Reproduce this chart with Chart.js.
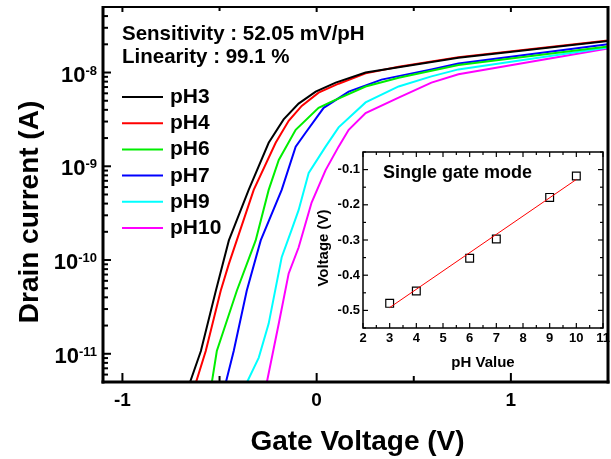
<!DOCTYPE html>
<html>
<head>
<meta charset="utf-8">
<script src="https://cdn.jsdelivr.net/npm/chart.js@4.4.1/dist/chart.umd.min.js"></script>
<style>
  html, body { margin: 0; padding: 0; background: #fff; }
  #wrap { position: relative; width: 611px; height: 459px; }
  #main { position: absolute; left: 0; top: 0; }
  #inset { position: absolute; left: 300px; top: 140px; }
</style>
</head>
<body>
<div id="wrap">
  <canvas id="main" width="611" height="459"></canvas>
  <canvas id="inset" width="311" height="240"></canvas>
</div>
<script>
// ---------------- DATA ----------------
const seriesNames = ['pH3', 'pH4', 'pH6', 'pH7', 'pH9', 'pH10'];
const seriesColors = ['#000000', '#ff0000', '#00ee00', '#0000ff', '#00ffff', '#ff00ff'];

const vgPH3  = [-0.653, -0.596, -0.519, -0.452, -0.350, -0.247, -0.170, -0.093, -0.005, 0.098, 0.252, 0.422, 0.730, 1.50];
const idPH3  = [4.9e-12, 1.07e-11, 4.7e-11, 1.62e-10, 5.6e-10, 1.78e-9, 3.16e-9, 4.66e-9, 6.25e-9, 7.8e-9, 1.0e-8, 1.14e-8, 1.44e-8, 2.17e-8];

const vgPH4  = [-0.622, -0.571, -0.494, -0.452, -0.324, -0.211, -0.144, -0.077, 0.010, 0.113, 0.252, 0.422, 0.730, 1.50];
const idPH4  = [4.9e-12, 1.07e-11, 4.7e-11, 9.1e-11, 5.6e-10, 1.78e-9, 3.06e-9, 4.4e-9, 6.1e-9, 7.6e-9, 9.8e-9, 1.15e-8, 1.46e-8, 2.2e-8];

const vgPH6  = [-0.540, -0.514, -0.411, -0.314, -0.247, -0.195, -0.108, 0.010, 0.077, 0.252, 0.422, 0.730, 1.50];
const idPH6  = [4.9e-12, 1.07e-11, 4.7e-11, 1.62e-10, 5.6e-10, 1.17e-9, 2.45e-9, 4.2e-9, 4.9e-9, 7.1e-9, 8.8e-9, 1.2e-8, 1.9e-8];

const vgPH7  = [-0.468, -0.427, -0.360, -0.288, -0.180, -0.108, -0.057, 0.036, 0.165, 0.334, 0.591, 0.730, 1.50];
const idPH7  = [4.9e-12, 1.07e-11, 4.7e-11, 1.62e-10, 5.6e-10, 1.62e-9, 2.28e-9, 4.2e-9, 6.25e-9, 8.4e-9, 1.08e-8, 1.25e-8, 2.0e-8];

const vgPH9  = [-0.360, -0.298, -0.247, -0.180, -0.129, -0.093, -0.041, 0.046, 0.113, 0.252, 0.422, 0.591, 0.730, 1.50];
const idPH9  = [4.9e-12, 9.1e-12, 2.1e-11, 1.07e-10, 2.1e-10, 3.4e-10, 8.5e-10, 1.62e-9, 2.6e-9, 4.8e-9, 7.1e-9, 9.1e-9, 1.08e-8, 1.85e-8];

const vgPH10 = [-0.257, -0.195, -0.144, -0.093, -0.026, 0.046, 0.113, 0.165, 0.252, 0.422, 0.591, 0.730, 1.50];
const idPH10 = [4.9e-12, 2.1e-11, 7.2e-11, 1.36e-10, 4.1e-10, 9.1e-10, 1.62e-9, 2.45e-9, 3.7e-9, 5.4e-9, 7.8e-9, 9.6e-9, 1.8e-8];

const xTickValues = [-1, 0, 1];
const xTickLabels = ['-1', '0', '1'];
const xMinorTicks = [-0.5, 0.5];
const yTickExponents = [-11, -10, -9, -8];

// inset data
const insetPH = [3, 4, 6, 7, 9, 10];
const insetVoltage = [-0.480, -0.445, -0.352, -0.297, -0.179, -0.118];
const fitPH = [3, 10];
const fitVoltage = [-0.492, -0.128];
const insetXTicks = [2, 3, 4, 5, 6, 7, 8, 9, 10, 11];
const insetYTicks = [-0.5, -0.4, -0.3, -0.2, -0.1];
const insetYTickLabels = ['-0.5', '-0.4', '-0.3', '-0.2', '-0.1'];

const annotation1 = 'Sensitivity : 52.05 mV/pH';
const annotation2 = 'Linearity : 99.1 %';
const xTitle = 'Gate Voltage (V)';
const yTitle = 'Drain current (A)';
const insetTitle = 'Single gate mode';
const insetXTitle = 'pH Value';
const insetYTitle = 'Voltage (V)';

// ---------------- BUILD ----------------
const FONT = "'Liberation Sans', Arial, sans-serif";
const vgList = [vgPH3, vgPH4, vgPH6, vgPH7, vgPH9, vgPH10];
const idList = [idPH3, idPH4, idPH6, idPH7, idPH9, idPH10];

const mainDatasets = seriesNames.map((n, i) => ({
  label: n,
  data: vgList[i].map((v, k) => ({ x: v, y: idList[i][k] })),
  borderColor: seriesColors[i],
  backgroundColor: seriesColors[i],
  borderWidth: 2,
  pointRadius: 0,
  tension: 0,
  fill: false
}));

function line(ctx, x1, y1, x2, y2) {
  ctx.beginPath(); ctx.moveTo(x1, y1); ctx.lineTo(x2, y2); ctx.stroke();
}

const mainDecor = {
  id: 'mainDecor',
  afterDraw(chart) {
    const { ctx, chartArea: a, scales: { x, y } } = chart;
    ctx.save();
    ctx.strokeStyle = '#000';
    ctx.fillStyle = '#000';
    // frame
    ctx.lineWidth = 2;
    line(ctx, a.left, a.top, a.right, a.top);
    ctx.lineWidth = 3;
    line(ctx, a.left, a.top - 1, a.left, a.bottom + 1.5);
    line(ctx, a.left - 1.5, a.bottom, a.right + 1.5, a.bottom);
    line(ctx, a.right, a.top - 1, a.right, a.bottom + 1.5);
    // x ticks
    ctx.lineWidth = 2;
    xTickValues.forEach(v => {
      const px = x.getPixelForValue(v);
      line(ctx, px, a.bottom, px, a.bottom - 9);
      line(ctx, px, a.top, px, a.top + 5);
    });
    xMinorTicks.forEach(v => {
      const px = x.getPixelForValue(v);
      line(ctx, px, a.bottom, px, a.bottom - 6);
      line(ctx, px, a.top, px, a.top + 4);
    });
    // y ticks (log)
    for (let e = -12; e <= -8; e++) {
      for (let m = 1; m <= 9; m++) {
        const v = m * Math.pow(10, e);
        if (v < y.min || v > y.max) continue;
        const py = y.getPixelForValue(v);
        line(ctx, a.left, py, a.left + (m === 1 ? 8 : 5), py);
      }
    }
    // x tick labels
    ctx.font = 'bold 19px ' + FONT;
    ctx.textAlign = 'center';
    ctx.textBaseline = 'alphabetic';
    xTickValues.forEach((v, i) => {
      ctx.fillText(xTickLabels[i], x.getPixelForValue(v), a.bottom + 24);
    });
    // y tick labels 10^n
    yTickExponents.forEach(e => {
      const py = y.getPixelForValue(Math.pow(10, e));
      const right = a.left - 6;
      ctx.font = 'bold 13px ' + FONT;
      ctx.textAlign = 'right';
      const expStr = String(e);
      const ew = ctx.measureText(expStr).width;
      ctx.fillText(expStr, right, py + 2);
      ctx.font = 'bold 22px ' + FONT;
      ctx.fillText('10', right - ew, py + 9);
    });
    // axis titles
    ctx.font = 'bold 28px ' + FONT;
    ctx.textAlign = 'center';
    ctx.fillText(xTitle, (a.left + a.right) / 2 + 2, 450);
    ctx.save();
    ctx.translate(30, 212);
    ctx.rotate(-Math.PI / 2);
    ctx.textBaseline = 'middle';
    ctx.fillText(yTitle, 0, 0);
    ctx.restore();
    // annotations
    ctx.textAlign = 'left';
    ctx.textBaseline = 'alphabetic';
    ctx.font = 'bold 20.5px ' + FONT;
    ctx.fillText(annotation1, a.left + 19, 40);
    ctx.fillText(annotation2, a.left + 19, 63);
    // legend
    const rowY0 = 97, rowStep = 26.2;
    chart.data.datasets.forEach((ds, i) => {
      const ry = rowY0 + i * rowStep;
      ctx.strokeStyle = ds.borderColor;
      ctx.lineWidth = 2;
      line(ctx, a.left + 19, ry, a.left + 60, ry);
      ctx.fillStyle = '#000';
      ctx.font = 'bold 21px ' + FONT;
      ctx.fillText(ds.label, a.left + 67, ry + 6);
    });
    ctx.restore();
  }
};

new Chart(document.getElementById('main'), {
  type: 'line',
  data: { datasets: mainDatasets },
  options: {
    responsive: false,
    animation: false,
    devicePixelRatio: 1,
    layout: { padding: { left: 103, top: 7, right: 3, bottom: 77 } },
    plugins: { legend: { display: false }, tooltip: { enabled: false } },
    scales: {
      x: { type: 'linear', min: -1.1, max: 1.5, display: false },
      y: { type: 'logarithmic', min: 5e-12, max: 5e-8, display: false }
    }
  },
  plugins: [mainDecor]
});

// ---------------- INSET ----------------
const insetDecor = {
  id: 'insetDecor',
  beforeDatasetsDraw(chart) {
    const { ctx, chartArea: a } = chart;
    ctx.save();
    ctx.fillStyle = '#fff';
    ctx.fillRect(a.left, a.top, a.right - a.left, a.bottom - a.top);
    ctx.restore();
  },
  afterDraw(chart) {
    const { ctx, chartArea: a, scales: { x, y } } = chart;
    ctx.save();
    ctx.strokeStyle = '#000';
    ctx.fillStyle = '#000';
    ctx.lineWidth = 1.5;
    ctx.strokeRect(a.left, a.top, a.right - a.left, a.bottom - a.top);
    ctx.lineWidth = 1.2;
    for (let v = 2; v <= 11.001; v += 0.5) {
      const px = x.getPixelForValue(v);
      const major = Math.abs(v - Math.round(v)) < 1e-6;
      const len = major ? 5 : 3;
      line(ctx, px, a.bottom, px, a.bottom - len);
      line(ctx, px, a.top, px, a.top + len);
    }
    for (let k = 0; k <= 10; k++) {
      const v = -0.55 + k * 0.05;
      const py = y.getPixelForValue(v);
      const major = k % 2 === 1;
      const len = major ? 5 : 3;
      line(ctx, a.left, py, a.left + len, py);
      line(ctx, a.right, py, a.right - len, py);
    }
    ctx.font = 'bold 13px ' + FONT;
    ctx.textAlign = 'center';
    ctx.textBaseline = 'middle';
    insetXTicks.forEach(v => ctx.fillText(String(v), x.getPixelForValue(v), a.bottom + 10));
    ctx.textAlign = 'right';
    insetYTicks.forEach((v, i) => ctx.fillText(insetYTickLabels[i], a.left - 3, y.getPixelForValue(v)));
    ctx.font = 'bold 15px ' + FONT;
    ctx.textAlign = 'center';
    ctx.textBaseline = 'alphabetic';
    ctx.fillText(insetXTitle, (a.left + a.right) / 2 + 0, 227);
    ctx.save();
    ctx.translate(24, 108);
    ctx.rotate(-Math.PI / 2);
    ctx.textBaseline = 'middle';
    ctx.fillText(insetYTitle, 0, 0);
    ctx.restore();
    ctx.font = 'bold 18px ' + FONT;
    ctx.textAlign = 'left';
    ctx.fillText(insetTitle, a.left + 20, 38);
    ctx.restore();
  }
};

new Chart(document.getElementById('inset'), {
  type: 'scatter',
  data: {
    datasets: [
      {
        type: 'line',
        label: 'fit',
        data: fitPH.map((p, i) => ({ x: p, y: fitVoltage[i] })),
        borderColor: '#ff0000',
        borderWidth: 1,
        pointRadius: 0,
        fill: false
      },
      {
        type: 'scatter',
        label: 'Vth',
        data: insetPH.map((p, i) => ({ x: p, y: insetVoltage[i] })),
        pointStyle: 'rect',
        pointRadius: 5.5,
        borderColor: '#000',
        backgroundColor: 'rgba(0,0,0,0)',
        borderWidth: 1.2
      }
    ]
  },
  options: {
    responsive: false,
    animation: false,
    devicePixelRatio: 1,
    layout: { padding: { left: 63, top: 12, right: 8, bottom: 52 } },
    plugins: { legend: { display: false }, tooltip: { enabled: false } },
    scales: {
      x: { type: 'linear', min: 2, max: 11, display: false },
      y: { type: 'linear', min: -0.55, max: -0.05, display: false }
    }
  },
  plugins: [insetDecor]
});
</script>
</body>
</html>
